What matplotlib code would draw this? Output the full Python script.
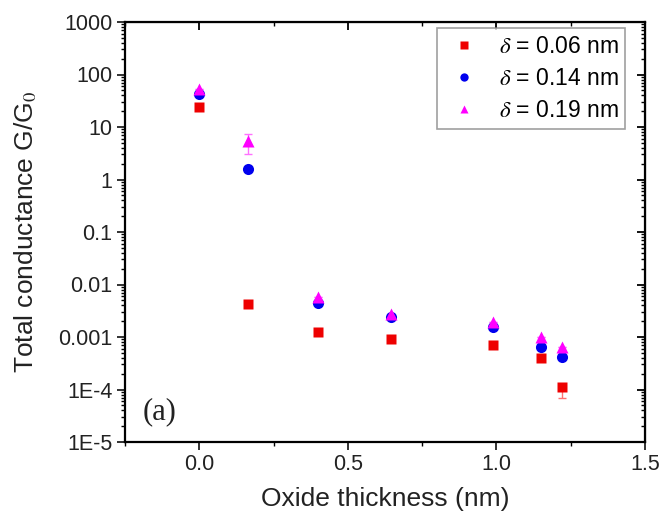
import matplotlib
matplotlib.use("Agg")
import matplotlib.pyplot as plt
from matplotlib.ticker import MultipleLocator, LogLocator, NullFormatter

plt.rcParams['font.family'] = ['Liberation Sans', 'DejaVu Sans']
plt.rcParams['mathtext.fontset'] = 'stix'

# oxide thickness (nm)
thick = [0.0, 0.165, 0.40, 0.645, 0.99, 1.15, 1.22]
# total conductance G/G0 for each delta
g_006 = [24, 0.0042, 0.00125, 0.0009, 0.0007, 0.0004, 0.00011]
g_014 = [43, 1.6, 0.0045, 0.0024, 0.00155, 0.00065, 0.00042]
g_019 = [54, 5.4, 0.0059, 0.0028, 0.0019, 0.001, 0.00065]
# asymmetric error bars (lower, upper)
err_006 = [[0, 0, 0, 0, 0, 0, 0.00004], [0, 0, 0, 0, 0, 0, 0.00002]]
err_019 = [[0, 2.4, 0, 0, 0, 0, 0], [0, 1.8, 0, 0, 0, 0, 0]]
labels = [r'$\delta$ = 0.06 nm', r'$\delta$ = 0.14 nm', r'$\delta$ = 0.19 nm']

fig = plt.figure(figsize=(6.63, 5.22), dpi=100)
ax = fig.add_axes([125/663, 1-442/522, 520/663, 420/522])

# error bars first, markers on top
ax.errorbar(thick, g_006, yerr=err_006, fmt='none', ecolor='#ff7070',
            elinewidth=1, capsize=3, zorder=2)
ax.errorbar(thick, g_019, yerr=err_019, fmt='none', ecolor='#ff70ff',
            elinewidth=1, capsize=3, zorder=2)
ax.plot(thick, g_006, 's', color='#ee0000', ms=7, mec='none', label=labels[0], zorder=3)
ax.plot(thick, g_014, 'o', color='#0000ee', ms=8, mec='none', label=labels[1], zorder=4)
ax.plot(thick, g_019, '^', color='#ff00ff', ms=8.5, mec='none', label=labels[2], zorder=5)

ax.set_yscale('log')
ax.set_xlim(-0.25, 1.5)
ax.set_ylim(1e-5, 1000)
ax.xaxis.set_major_locator(MultipleLocator(0.5))
ax.xaxis.set_minor_locator(MultipleLocator(0.25))
ax.xaxis.set_major_formatter(plt.FuncFormatter(lambda v, p: f'{v:.1f}'))
ax.yaxis.set_major_locator(LogLocator(base=10, numticks=20))
ax.yaxis.set_minor_locator(LogLocator(base=10, subs=range(2, 10), numticks=20))
ax.yaxis.set_minor_formatter(NullFormatter())
ylabs = {1e-5: '1E-5', 1e-4: '1E-4', 1e-3: '0.001', 1e-2: '0.01', 1e-1: '0.1',
         1: '1', 10: '10', 100: '100', 1000: '1000'}
ax.yaxis.set_major_formatter(plt.FuncFormatter(
    lambda v, p: min(ylabs.items(), key=lambda kv: abs(kv[0] - v) / kv[0])[1]))

ax.tick_params(which='major', direction='out', length=6, width=1.3, labelsize=15.5,
               colors='#222222', pad=3)
ax.tick_params(which='minor', direction='out', length=3, width=1)
for s in ax.spines.values():
    s.set_linewidth(1.6)

# mirrored axes with inward ticks
top = ax.secondary_xaxis('top')
top.xaxis.set_major_locator(MultipleLocator(0.5))
top.xaxis.set_minor_locator(MultipleLocator(0.25))
top.tick_params(which='major', direction='in', length=6, width=1.3, labeltop=False)
top.tick_params(which='minor', direction='in', length=3, width=1)
right = ax.secondary_yaxis('right')
right.yaxis.set_major_locator(LogLocator(base=10, numticks=20))
right.yaxis.set_minor_locator(LogLocator(base=10, subs=range(2, 10), numticks=20))
right.tick_params(which='major', direction='in', length=6, width=1.3, labelright=False)
right.tick_params(which='minor', direction='in', length=3, width=1, labelright=False)

ax.set_xlabel('Oxide thickness (nm)', fontsize=19, color='#222222', labelpad=8)
ax.set_ylabel('Total conductance G/G$_0$', fontsize=19, color='#222222', labelpad=14)

ax.text(0.033, 0.055, '(a)', transform=ax.transAxes, fontsize=22,
        family='Liberation Serif', color='#222222')

leg = ax.legend(loc='upper right', fontsize=16.5, frameon=True, fancybox=False,
                edgecolor='#888888', handletextpad=0.6, borderpad=0.3,
                labelspacing=0.4, handlelength=1.8, borderaxespad=0,
                bbox_to_anchor=(0.962, 0.986), markerscale=0.75)
leg.get_frame().set_linewidth(1.2)

fig.savefig('out.png', dpi=100)
